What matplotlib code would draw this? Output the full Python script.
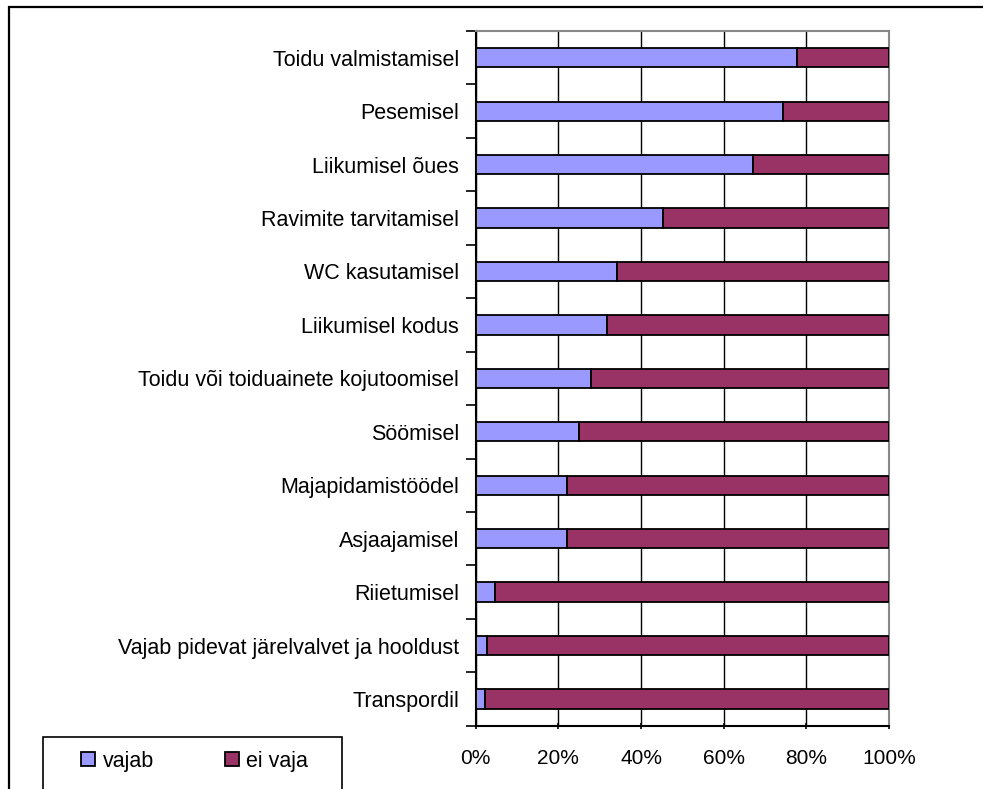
import matplotlib.pyplot as plt
from matplotlib.patches import Rectangle
from matplotlib.ticker import PercentFormatter, FixedLocator, NullFormatter
import numpy as np

plt.rcParams['font.family'] = ['Liberation Sans', 'DejaVu Sans']

categories = [
    "Toidu valmistamisel",
    "Pesemisel",
    "Liikumisel õues",
    "Ravimite tarvitamisel",
    "WC kasutamisel",
    "Liikumisel kodus",
    "Toidu või toiduainete kojutoomisel",
    "Söömisel",
    "Majapidamistöödel",
    "Asjaajamisel",
    "Riietumisel",
    "Vajab pidevat järelvalvet ja hooldust",
    "Transpordil",
]
vajab = [77.8, 74.4, 67.2, 45.3, 34.3, 31.8, 27.9, 25.1, 22.1, 22.2, 4.7, 2.7, 2.2]
ei_vaja = [100 - v for v in vajab]

W, H = 983, 789
fig = plt.figure(figsize=(W / 100, H / 100), dpi=100)

# outer chart frame (runs off the right and bottom edges)
fig.patches.append(Rectangle((8.5 / W, -0.05), 1.05, (H - 7) / H + 0.05,
                             transform=fig.transFigure, fill=False,
                             edgecolor='black', linewidth=1.6))

ax = fig.add_axes([475.7 / W, 63.3 / H, 413.3 / W, 694.7 / H])
y = np.arange(len(categories))
ax.barh(y, vajab, height=0.36, color='#9999FF', edgecolor='black',
        linewidth=1.3, label='vajab', zorder=3)
ax.barh(y, ei_vaja, left=vajab, height=0.36, color='#993366',
        edgecolor='black', linewidth=1.3, label='ei vaja', zorder=3)

ax.set_xlim(0, 100)
ax.set_ylim(len(categories) - 0.5, -0.5)
ax.set_xticks([0, 20, 40, 60, 80, 100])
ax.xaxis.set_major_formatter(PercentFormatter(decimals=0))
ax.grid(axis='x', color='black', linewidth=1, zorder=0)

ax.set_yticks(y)
ax.set_yticklabels(categories)
ax.yaxis.set_minor_locator(FixedLocator(np.arange(-0.5, len(categories), 1.0)))
ax.yaxis.set_minor_formatter(NullFormatter())
ax.tick_params(axis='y', which='major', length=0, pad=12, labelsize=15.5)
ax.tick_params(axis='y', which='minor', length=7, width=1.2, direction='out')
ax.tick_params(axis='x', length=5, width=1.2, direction='inout', pad=14, labelsize=15)

for side in ['top', 'right']:
    ax.spines[side].set_color('#888888')
    ax.spines[side].set_linewidth(1.5)
for side in ['left', 'bottom']:
    ax.spines[side].set_color('black')
    ax.spines[side].set_linewidth(1.5)

# legend box
fig.patches.append(Rectangle((43 / W, -0.05), 299 / W, (H - 737) / H + 0.05,
                             transform=fig.transFigure, fill=False,
                             edgecolor='black', linewidth=1.2))
fig.legend(loc='center left', bbox_to_anchor=(81 / W, 1 - 761 / H), ncol=2,
           frameon=False, fontsize=15.5, handlelength=0.67, handleheight=0.67,
           handletextpad=0.33, columnspacing=3.3, borderpad=0, borderaxespad=0)

fig.savefig('out.png', dpi=100)
